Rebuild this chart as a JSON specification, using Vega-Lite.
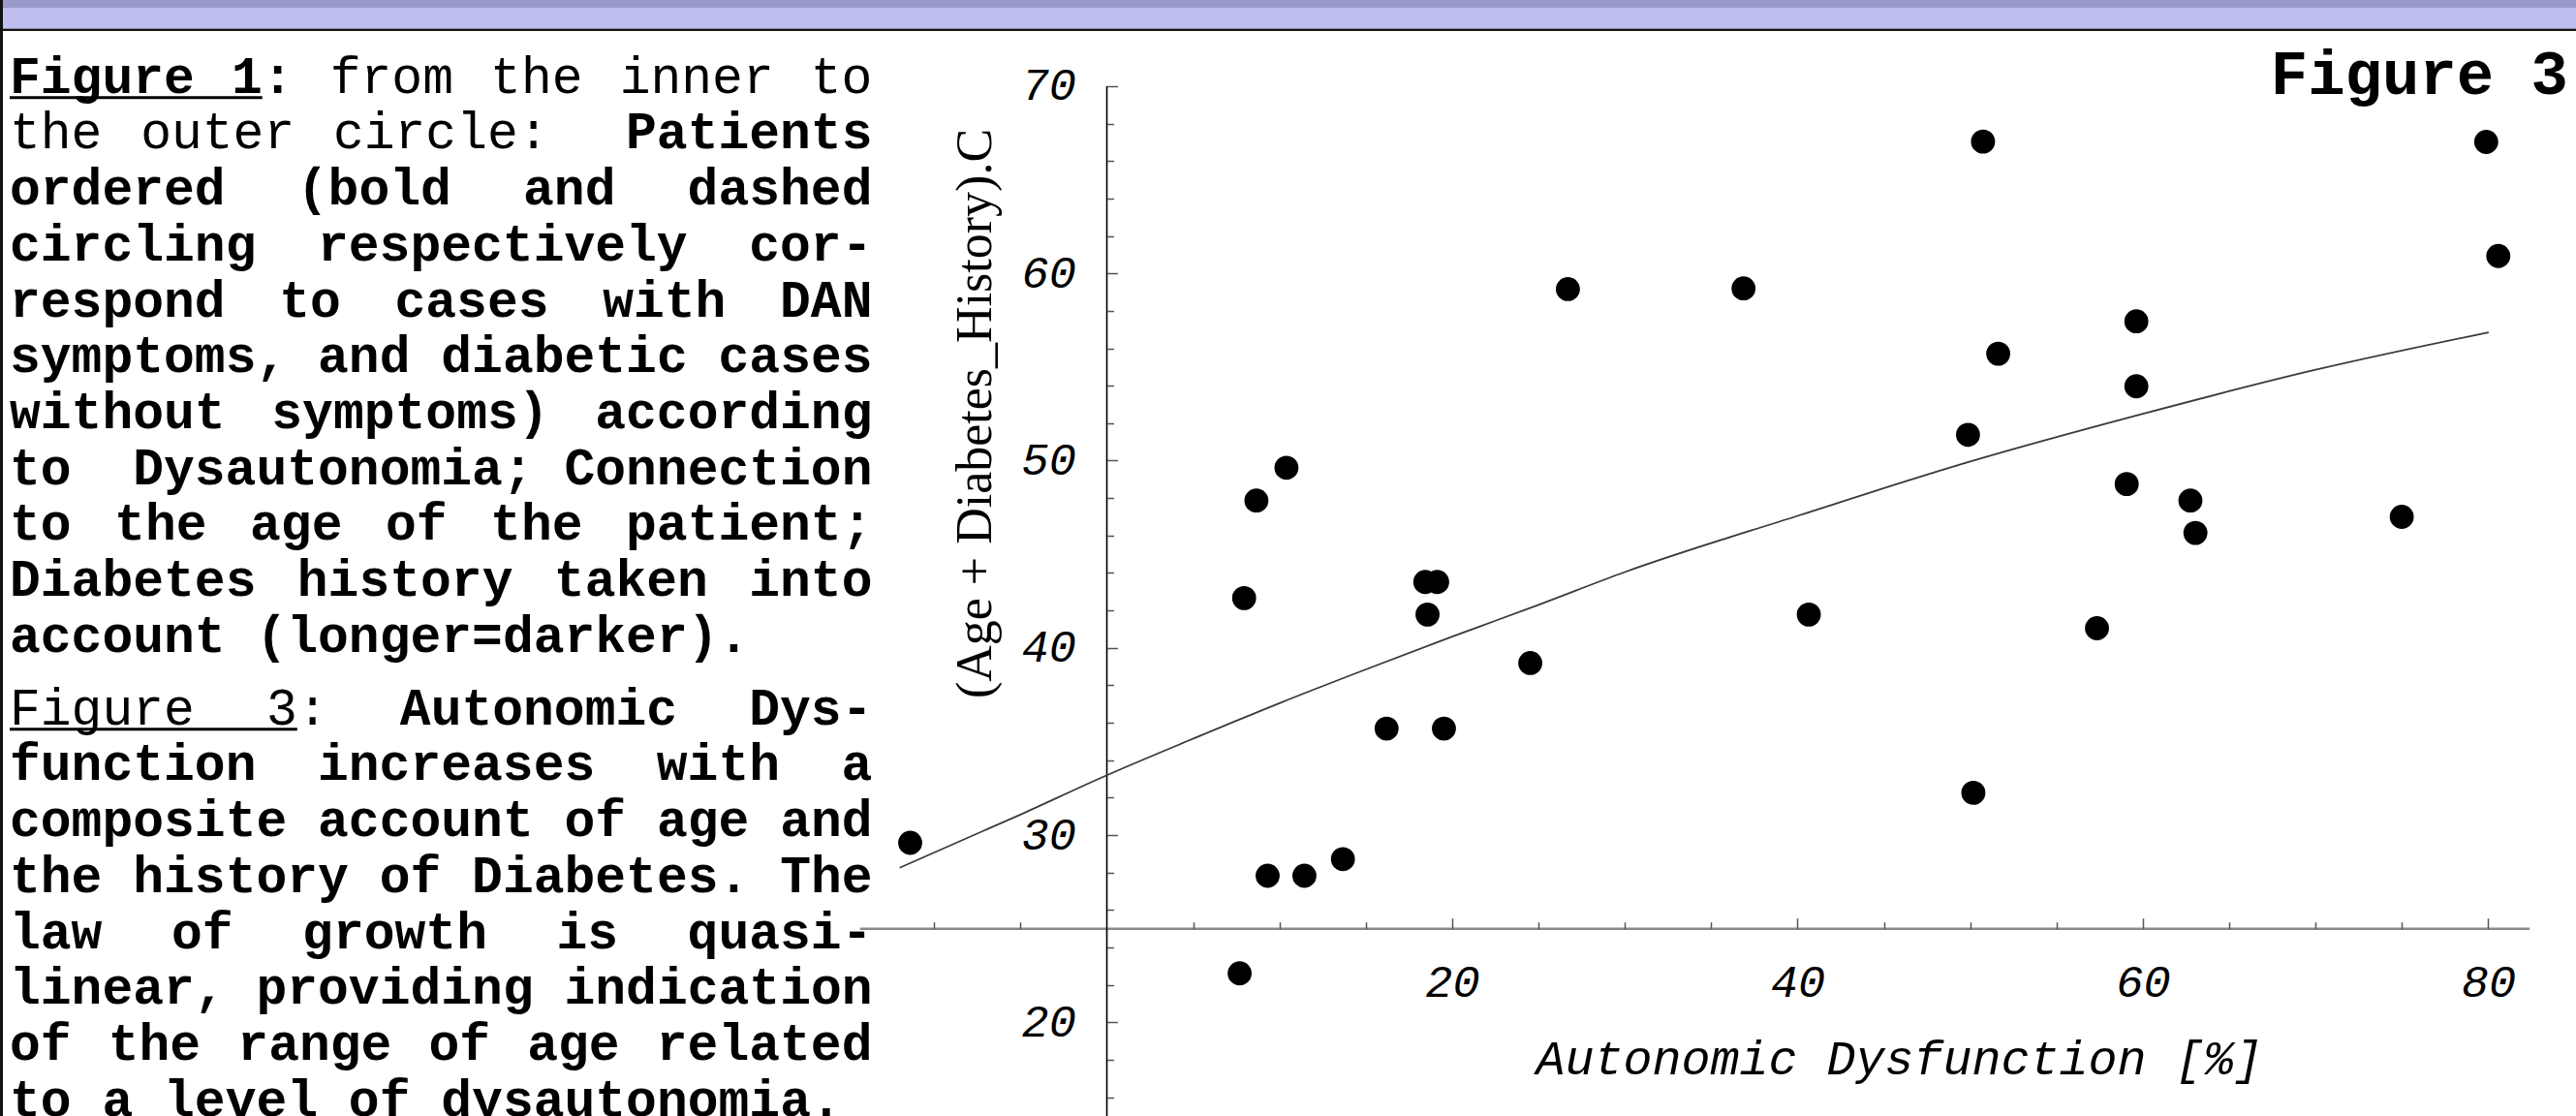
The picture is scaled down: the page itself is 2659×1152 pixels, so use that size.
{
  "$schema": "https://vega.github.io/schema/vega-lite/v6.json",
  "width": 2659,
  "height": 1152,
  "autosize": {"type": "none"},
  "padding": 0,
  "background": "white",
  "config": {"view": {"stroke": null}},
  "title": {
    "text": "Figure 3",
    "anchor": "end",
    "frame": "group",
    "orient": "top",
    "offset": -161,
    "baseline": "alphabetic",
    "font": "Liberation Mono",
    "fontSize": 64,
    "fontWeight": "bold",
    "color": "black",
    "dx": -8
  },
  "datasets": {
    "words": [
      {"r": 1, "c": 0, "t": "Figure", "b": 1},
      {"r": 1, "c": 7.2, "t": "1:", "b": 1},
      {"r": 1, "c": 10.4, "t": "from", "b": 0},
      {"r": 1, "c": 15.6, "t": "the", "b": 0},
      {"r": 1, "c": 19.8, "t": "inner", "b": 0},
      {"r": 1, "c": 26.0, "t": "to", "b": 0},
      {"r": 2, "c": 0, "t": "the", "b": 0},
      {"r": 2, "c": 4.25, "t": "outer", "b": 0},
      {"r": 2, "c": 10.5, "t": "circle:", "b": 0},
      {"r": 2, "c": 20.0, "t": "Patients", "b": 1},
      {"r": 3, "c": 0, "t": "ordered", "b": 1},
      {"r": 3, "c": 9.333, "t": "(bold", "b": 1},
      {"r": 3, "c": 16.667, "t": "and", "b": 1},
      {"r": 3, "c": 22.0, "t": "dashed", "b": 1},
      {"r": 4, "c": 0, "t": "circling", "b": 1},
      {"r": 4, "c": 10.0, "t": "respectively", "b": 1},
      {"r": 4, "c": 24.0, "t": "cor-", "b": 1},
      {"r": 5, "c": 0, "t": "respond", "b": 1},
      {"r": 5, "c": 8.75, "t": "to", "b": 1},
      {"r": 5, "c": 12.5, "t": "cases", "b": 1},
      {"r": 5, "c": 19.25, "t": "with", "b": 1},
      {"r": 5, "c": 25.0, "t": "DAN", "b": 1},
      {"r": 6, "c": 0, "t": "symptoms, and diabetic cases", "b": 1},
      {"r": 7, "c": 0, "t": "without", "b": 1},
      {"r": 7, "c": 8.5, "t": "symptoms)", "b": 1},
      {"r": 7, "c": 19.0, "t": "according", "b": 1},
      {"r": 8, "c": 0, "t": "to", "b": 1},
      {"r": 8, "c": 4.0, "t": "Dysautonomia;", "b": 1},
      {"r": 8, "c": 18.0, "t": "Connection", "b": 1},
      {"r": 9, "c": 0, "t": "to", "b": 1},
      {"r": 9, "c": 3.4, "t": "the", "b": 1},
      {"r": 9, "c": 7.8, "t": "age", "b": 1},
      {"r": 9, "c": 12.2, "t": "of", "b": 1},
      {"r": 9, "c": 15.6, "t": "the", "b": 1},
      {"r": 9, "c": 20.0, "t": "patient;", "b": 1},
      {"r": 10, "c": 0, "t": "Diabetes", "b": 1},
      {"r": 10, "c": 9.333, "t": "history", "b": 1},
      {"r": 10, "c": 17.667, "t": "taken", "b": 1},
      {"r": 10, "c": 24.0, "t": "into", "b": 1},
      {"r": 11, "c": 0, "t": "account (longer=darker).", "b": 1},
      {"r": 12.3, "c": 0, "t": "Figure", "b": 0},
      {"r": 12.3, "c": 8.333, "t": "3:", "b": 0},
      {"r": 12.3, "c": 12.667, "t": "Autonomic", "b": 1},
      {"r": 12.3, "c": 24.0, "t": "Dys-", "b": 1},
      {"r": 13.3, "c": 0, "t": "function", "b": 1},
      {"r": 13.3, "c": 10.0, "t": "increases", "b": 1},
      {"r": 13.3, "c": 21.0, "t": "with", "b": 1},
      {"r": 13.3, "c": 27.0, "t": "a", "b": 1},
      {"r": 14.3, "c": 0, "t": "composite account of age and", "b": 1},
      {"r": 15.3, "c": 0, "t": "the history of Diabetes. The", "b": 1},
      {"r": 16.3, "c": 0, "t": "law", "b": 1},
      {"r": 16.3, "c": 5.25, "t": "of", "b": 1},
      {"r": 16.3, "c": 9.5, "t": "growth", "b": 1},
      {"r": 16.3, "c": 17.75, "t": "is", "b": 1},
      {"r": 16.3, "c": 22.0, "t": "quasi-", "b": 1},
      {"r": 17.3, "c": 0, "t": "linear, providing indication", "b": 1},
      {"r": 18.3, "c": 0, "t": "of", "b": 1},
      {"r": 18.3, "c": 3.2, "t": "the", "b": 1},
      {"r": 18.3, "c": 7.4, "t": "range", "b": 1},
      {"r": 18.3, "c": 13.6, "t": "of", "b": 1},
      {"r": 18.3, "c": 16.8, "t": "age", "b": 1},
      {"r": 18.3, "c": 21.0, "t": "related", "b": 1},
      {"r": 19.3, "c": 0, "t": "to a level of dysautonomia.", "b": 1}
    ],
    "underlines": [
      {"r": 1.085, "c1": 0, "c2": 8.2},
      {"r": 12.385, "c1": 0, "c2": 9.333}
    ],
    "points": [
      {"x": -11.39, "y": 29.59},
      {"x": 7.69, "y": 22.62},
      {"x": 7.95, "y": 42.66},
      {"x": 8.66, "y": 47.87},
      {"x": 10.40, "y": 49.62},
      {"x": 9.31, "y": 27.83},
      {"x": 11.44, "y": 27.83},
      {"x": 13.67, "y": 28.72},
      {"x": 16.20, "y": 35.69},
      {"x": 18.44, "y": 43.52},
      {"x": 19.13, "y": 43.52},
      {"x": 18.57, "y": 41.78},
      {"x": 19.52, "y": 35.69},
      {"x": 24.52, "y": 39.19},
      {"x": 26.70, "y": 59.16},
      {"x": 36.87, "y": 59.20},
      {"x": 40.65, "y": 41.78},
      {"x": 49.87, "y": 51.38},
      {"x": 50.18, "y": 32.26},
      {"x": 50.74, "y": 67.04},
      {"x": 51.62, "y": 55.71},
      {"x": 57.34, "y": 41.05},
      {"x": 59.06, "y": 48.75},
      {"x": 59.62, "y": 57.44},
      {"x": 59.62, "y": 53.97},
      {"x": 62.75, "y": 47.87},
      {"x": 63.04, "y": 46.14},
      {"x": 74.99, "y": 47.00},
      {"x": 79.88, "y": 67.02},
      {"x": 80.58, "y": 60.93}
    ],
    "curve": [
      {"x": -12.0, "y": 28.26},
      {"x": -5, "y": 31.1},
      {"x": 0, "y": 33.2},
      {"x": 5, "y": 35.15},
      {"x": 10, "y": 37.05},
      {"x": 15, "y": 38.85},
      {"x": 20, "y": 40.6},
      {"x": 25, "y": 42.3},
      {"x": 30, "y": 44.05},
      {"x": 40, "y": 47.05},
      {"x": 50, "y": 49.95},
      {"x": 60, "y": 52.5},
      {"x": 70, "y": 54.85},
      {"x": 80.02, "y": 56.85}
    ]
  },
  "layer": [
    {
      "data": {"values": [{"part": "band"}]},
      "mark": {
        "type": "rect",
        "fill": {
          "gradient": "linear", "x1": 0, "y1": 0, "x2": 0, "y2": 1,
          "stops": [
            {"offset": 0, "color": "#9a9bcb"},
            {"offset": 0.0072, "color": "#9a9bcb"},
            {"offset": 0.0074, "color": "#bfc0f1"},
            {"offset": 0.0255, "color": "#bfc0f1"},
            {"offset": 0.0257, "color": "#555555"},
            {"offset": 0.0266, "color": "#111111"},
            {"offset": 0.0280, "color": "#111111"},
            {"offset": 0.0282, "color": "rgba(255,255,255,0)"},
            {"offset": 1, "color": "rgba(255,255,255,0)"}
          ]
        }
      },
      "encoding": {}
    },
    {
      "data": {"values": [{"part": "border"}]},
      "mark": {
        "type": "rect",
        "fill": {
          "gradient": "linear", "x1": 0, "y1": 0, "x2": 1, "y2": 0,
          "stops": [
            {"offset": 0, "color": "#111111"},
            {"offset": 0.0011, "color": "#111111"},
            {"offset": 0.00115, "color": "rgba(255,255,255,0)"},
            {"offset": 1, "color": "rgba(255,255,255,0)"}
          ]
        }
      },
      "encoding": {}
    },
    {
      "layer": [
        {
          "data": {"name": "words"},
          "transform": [{"filter": "datum.b == 0"}],
          "mark": {"type": "text", "font": "Liberation Mono", "fontSize": 53, "align": "left", "baseline": "alphabetic", "color": "black"},
          "encoding": {
            "x": {"field": "c", "type": "quantitative", "scale": {"domain": [-0.3145, 83.3], "nice": false, "zero": false}, "axis": null},
            "y": {"field": "r", "type": "quantitative", "scale": {"domain": [-0.659, 19.306], "nice": false, "zero": false, "reverse": true}, "axis": null},
            "text": {"field": "t"}
          }
        },
        {
          "data": {"name": "words"},
          "transform": [{"filter": "datum.b == 1"}],
          "mark": {"type": "text", "font": "Liberation Mono", "fontSize": 53, "fontWeight": "bold", "align": "left", "baseline": "alphabetic", "color": "black"},
          "encoding": {
            "x": {"field": "c", "type": "quantitative", "scale": {"domain": [-0.3145, 83.3], "nice": false, "zero": false}, "axis": null},
            "y": {"field": "r", "type": "quantitative", "scale": {"domain": [-0.659, 19.306], "nice": false, "zero": false, "reverse": true}, "axis": null},
            "text": {"field": "t"}
          }
        },
        {
          "data": {"name": "underlines"},
          "mark": {"type": "rule", "color": "black", "strokeWidth": 3},
          "encoding": {
            "x": {"field": "c1", "type": "quantitative", "scale": {"domain": [-0.3145, 83.3], "nice": false, "zero": false}, "axis": null},
            "x2": {"field": "c2"},
            "y": {"field": "r", "type": "quantitative", "scale": {"domain": [-0.659, 19.306], "nice": false, "zero": false, "reverse": true}, "axis": null}
          }
        }
      ]
    },
    {
      "layer": [
        {
          "data": {"values": [{"xa": -14.3, "xb": 82.4, "ya": 25}]},
          "mark": {"type": "rule", "color": "#8a8a8a", "strokeWidth": 2.5},
          "encoding": {
            "x": {
              "field": "xa", "type": "quantitative",
              "scale": {"domain": [-64.10, 85.08], "nice": false, "zero": false},
              "axis": {
                "orient": "bottom", "offset": -193.3, "zindex": 1,
                "values": [20, 40, 60, 80],
                "domain": false, "ticks": false, "tickSize": 0, "grid": false,
                "labelFont": "Liberation Mono", "labelFontStyle": "italic", "labelFontSize": 47, "labelColor": "black",
                "labelPadding": 69.3, "labelBaseline": "alphabetic", "labelAlign": "center",
                "labelFlush": false, "labelOverlap": false,
                "title": "Autonomic Dysfunction [%]",
                "titleFont": "Liberation Mono", "titleFontStyle": "italic", "titleFontWeight": "normal",
                "titleFontSize": 50, "titleColor": "black",
                "titleX": 1960, "titleY": 149.3, "titleAlign": "center", "titleBaseline": "alphabetic", "titleAngle": 0
              }
            },
            "x2": {"field": "xb"},
            "y": {"field": "ya", "type": "quantitative", "scale": {"domain": [15.0, 74.60], "nice": false, "zero": false}, "axis": null}
          }
        },
        {
          "data": {"values": [{"xa": 0, "ya": 14.9, "yb": 70}]},
          "mark": {"type": "rule", "color": "black", "strokeWidth": 1.6},
          "encoding": {
            "x": {"field": "xa", "type": "quantitative", "scale": {"domain": [-64.10, 85.08], "nice": false, "zero": false}, "axis": null},
            "y": {
              "field": "ya", "type": "quantitative",
              "scale": {"domain": [15.0, 74.60], "nice": false, "zero": false},
              "axis": {
                "orient": "left", "offset": -1142.5, "zindex": 1,
                "values": [20, 30, 40, 50, 60, 70],
                "domain": false, "ticks": false, "tickSize": 0, "grid": false,
                "labelFont": "Liberation Mono", "labelFontStyle": "italic", "labelFontSize": 47, "labelColor": "black",
                "labelPadding": 32, "labelBaseline": "middle", "labelAlign": "right",
                "labelFlush": false, "labelOverlap": false,
                "title": "(Age + Diabetes_History).C",
                "titleFont": "Liberation Serif", "titleFontWeight": "normal", "titleFontSize": 52, "titleColor": "black",
                "titleAngle": 270, "titleX": -120.5, "titleY": 426.5, "titleAlign": "center", "titleBaseline": "alphabetic"
              }
            },
            "y2": {"field": "yb"}
          }
        },
        {
          "data": {"name": "curve"},
          "mark": {"type": "line", "interpolate": "monotone", "color": "#3a3a3a", "strokeWidth": 1.8},
          "encoding": {
            "x": {
              "field": "x", "type": "quantitative",
              "scale": {"domain": [-64.10, 85.08], "nice": false, "zero": false},
              "axis": {
                "orient": "top", "offset": -958.7, "zindex": 1,
                "values": [-10, -5, 5, 10, 15, 25, 30, 35, 45, 50, 55, 65, 70, 75],
                "domain": false, "labels": false, "ticks": true, "tickSize": 7, "tickColor": "#555555", "tickWidth": 1.5,
                "grid": false, "title": null
              }
            },
            "y": {
              "field": "y", "type": "quantitative",
              "scale": {"domain": [15.0, 74.60], "nice": false, "zero": false},
              "axis": {
                "orient": "right", "offset": -1516.5, "zindex": 1,
                "values": [16, 18, 22, 24, 26, 28, 32, 34, 36, 38, 42, 44, 46, 48, 52, 54, 56, 58, 62, 64, 66, 68],
                "domain": false, "labels": false, "ticks": true, "tickSize": 7, "tickColor": "#555555", "tickWidth": 1.5,
                "grid": false, "title": null
              }
            }
          }
        },
        {
          "data": {"name": "points"},
          "mark": {"type": "circle", "size": 616, "color": "black", "opacity": 1},
          "encoding": {
            "x": {
              "field": "x", "type": "quantitative",
              "scale": {"domain": [-64.10, 85.08], "nice": false, "zero": false},
              "axis": {
                "orient": "top", "offset": -958.7, "zindex": 1,
                "values": [20, 40, 60, 80],
                "domain": false, "labels": false, "ticks": true, "tickSize": 11, "tickColor": "#555555", "tickWidth": 1.5,
                "grid": false, "title": null
              }
            },
            "y": {
              "field": "y", "type": "quantitative",
              "scale": {"domain": [15.0, 74.60], "nice": false, "zero": false},
              "axis": {
                "orient": "right", "offset": -1516.5, "zindex": 1,
                "values": [20, 30, 40, 50, 60, 70],
                "domain": false, "labels": false, "ticks": true, "tickSize": 11, "tickColor": "#555555", "tickWidth": 1.5,
                "grid": false, "title": null
              }
            }
          }
        }
      ],
      "resolve": {"axis": {"x": "independent", "y": "independent"}}
    }
  ],
  "resolve": {"scale": {"x": "independent", "y": "independent"}}
}
